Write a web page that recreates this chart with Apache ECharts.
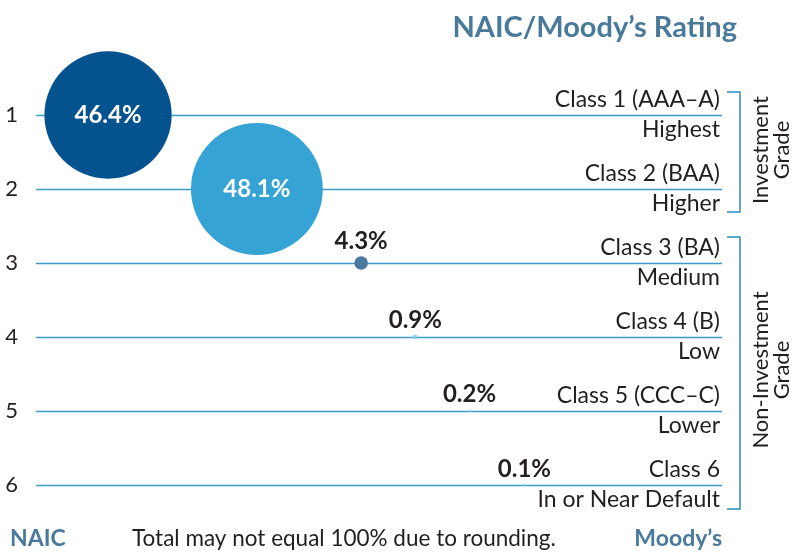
<!DOCTYPE html>
<html>
<head>
<meta charset="utf-8">
<script src="https://cdn.jsdelivr.net/npm/echarts@6/dist/echarts.min.js"></script>
<style>
  html, body { margin: 0; padding: 0; background: #fff; }
  #chart { width: 792px; height: 552px; }
</style>
</head>
<body>
<div id="chart"></div>
<script>
// NAIC classes (row labels on the left)
const naicClasses = ['1', '2', '3', '4', '5', '6']
// Moody's labels on the right: class name above the line, quality below
const moodysClasses = ['Class 1 (AAA–A)', 'Class 2 (BAA)', 'Class 3 (BA)', 'Class 4 (B)', 'Class 5 (CCC–C)', 'Class 6']
const qualityLabels = ['Highest', 'Higher', 'Medium', 'Low', 'Lower', 'In or Near Default']
// share of holdings per class, %
const shares = [46.4, 48.1, 4.3, 0.9, 0.2, 0.1]
// horizontal placement of each bubble along the row (0-100 of the row width)
const bubbleX = [10.5, 32.2, 47.4, 55.3, 63.2, 71.2]
const bubbleColors = ['#04538f', '#36a3d5', '#4a7a9e', '#8cc8ec', '#8cc8ec', '#8cc8ec']

const FONT = 'Lato, "Open Sans", sans-serif'
const TEXT = '#231f20'
const ACCENT = '#4a7a9b'
const LINE = '#3d9bc8'

const chart = echarts.init(document.getElementById('chart'))

const option = {
  animation: false,
  textStyle: { fontFamily: FONT },
  title: {
    text: 'NAIC/Moody’s Rating',
    right: 50,
    top: 8,
    textStyle: { fontFamily: FONT, fontSize: 29, fontWeight: 'bold', color: ACCENT }
  },
  grid: { left: 36, right: 70, top: 78, bottom: 30 },
  xAxis: { type: 'value', min: 0, max: 100, show: false },
  yAxis: [
    {
      type: 'category',
      data: naicClasses,
      inverse: true,
      axisLine: { show: false },
      axisTick: { show: false },
      splitLine: { show: false },
      axisLabel: { fontSize: 22, color: TEXT, margin: 18, fontFamily: FONT }
    },
    {
      type: 'category',
      data: naicClasses,
      inverse: true,
      position: 'right',
      axisLine: { show: false },
      axisTick: { show: false },
      splitLine: { show: false },
      axisLabel: {
        inside: true,
        margin: 2,
        align: 'right',
        fontFamily: FONT,
        formatter: (v, i) => '{a|' + moodysClasses[i] + '}\n{b|' + qualityLabels[i] + '}',
        rich: {
          a: { fontSize: 23, color: TEXT, lineHeight: 30, align: 'right', fontFamily: FONT },
          b: { fontSize: 23, color: TEXT, lineHeight: 30, align: 'right', fontFamily: FONT }
        }
      }
    }
  ],
  series: [
    {
      type: 'scatter',
      z: 3,
      data: shares.map((v, i) => ({
        value: [bubbleX[i], i, v],
        itemStyle: { color: bubbleColors[i], opacity: 1 },
        label: i < 2
          ? { position: 'inside', color: '#fff' }
          : { position: 'top', distance: 3, color: TEXT }
      })),
      symbolSize: (d) => 2.7 * d[2] + 2,
      itemStyle: { opacity: 1 },
      label: {
        show: true,
        formatter: (p) => p.value[2].toFixed(1) + '%',
        fontSize: 24,
        fontWeight: 'bold',
        fontFamily: FONT
      },
      markLine: {
        silent: true,
        symbol: 'none',
        z: 1,
        label: { show: false },
        lineStyle: { color: LINE, width: 1.3, type: 'solid' },
        data: naicClasses.map((c) => ({ yAxis: c }))
      }
    }
  ],
  graphic: [
    // bracket: investment grade
    {
      type: 'polyline',
      shape: { points: [[727, 92], [740, 92], [740, 212], [727, 212]] },
      style: { stroke: '#2d8cc4', lineWidth: 1.5, fill: null }
    },
    // bracket: non-investment grade
    {
      type: 'polyline',
      shape: { points: [[727, 237], [740, 237], [740, 509], [727, 509]] },
      style: { stroke: '#2d8cc4', lineWidth: 1.5, fill: null }
    },
    {
      type: 'text',
      x: 771, y: 150, rotation: Math.PI / 2,
      style: {
        text: 'Investment\nGrade', fontSize: 22, fontFamily: FONT, fill: TEXT,
        align: 'center', verticalAlign: 'middle', lineHeight: 21
      }
    },
    {
      type: 'text',
      x: 771, y: 370, rotation: Math.PI / 2,
      style: {
        text: 'Non-Investment\nGrade', fontSize: 22, fontFamily: FONT, fill: TEXT,
        align: 'center', verticalAlign: 'middle', lineHeight: 21
      }
    },
    {
      type: 'text',
      left: 10, top: 527,
      style: { text: 'NAIC', fontSize: 23, fontWeight: 'bold', fontFamily: FONT, fill: ACCENT }
    },
    {
      type: 'text',
      left: 132, top: 527,
      style: { text: 'Total may not equal 100% due to rounding.', fontSize: 22.5, fontFamily: FONT, fill: TEXT }
    },
    {
      type: 'text',
      right: 70, top: 527,
      style: { text: 'Moody’s', fontSize: 23, fontWeight: 'bold', fontFamily: FONT, fill: ACCENT }
    }
  ]
}

chart.setOption(option)
</script>
</body>
</html>
